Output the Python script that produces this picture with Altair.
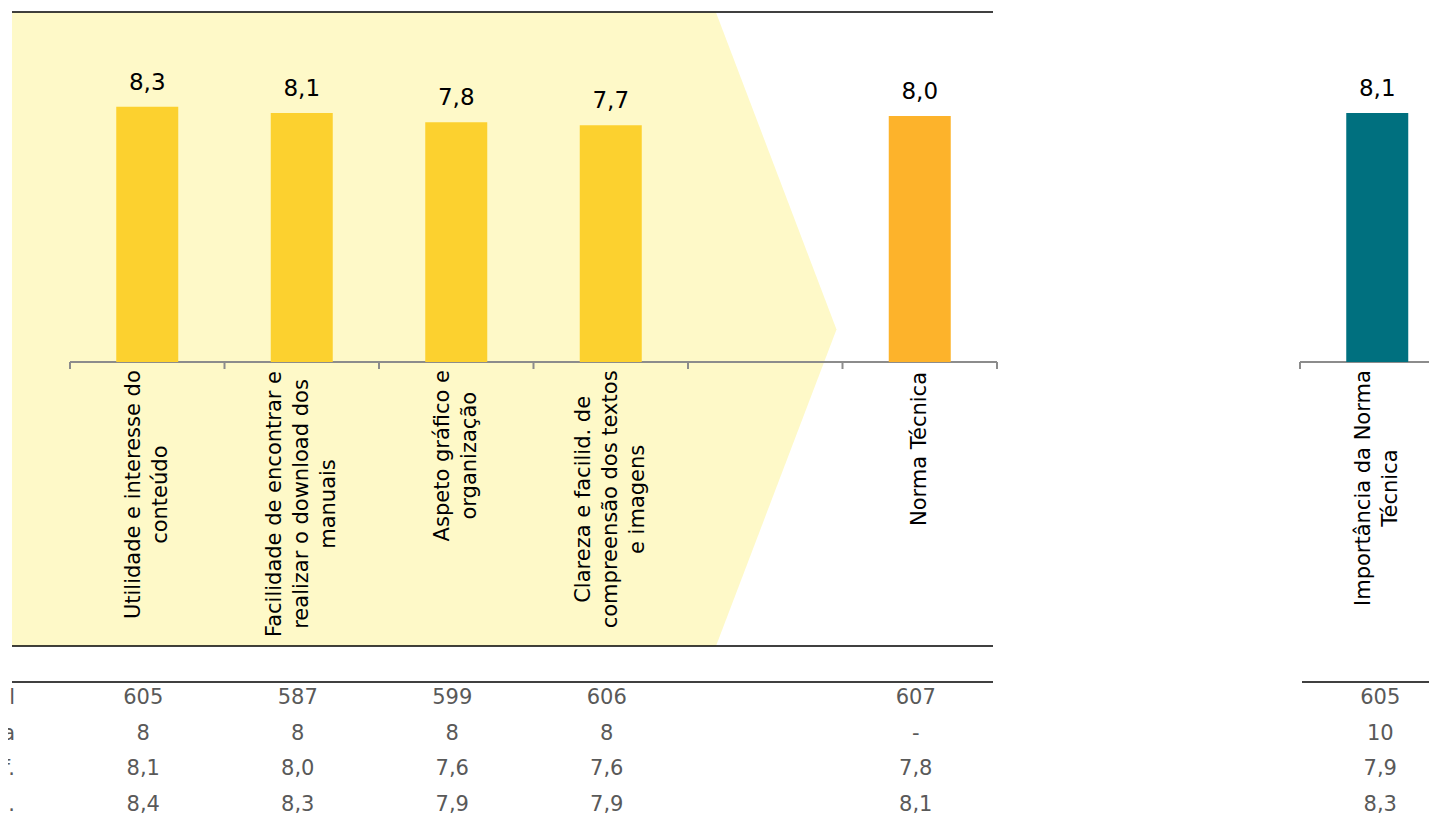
import altair as alt
import pandas as pd

# ---------------- data ----------------
cats1 = [
    "Utilidade e interesse do\nconteúdo",
    "Facilidade de encontrar e\nrealizar o download dos\nmanuais",
    "Aspeto gráfico e\norganização",
    "Clareza e facilid. de\ncompreensão dos textos\ne imagens",
    " ",
    "Norma Técnica",
]
vals1 = [8.3, 8.1, 7.8, 7.7, None, 8.0]
kinds1 = ["atributo", "atributo", "atributo", "atributo", "vazio", "norma"]

cats2 = ["Importância da Norma\nTécnica"]
vals2 = [8.1]
kinds2 = ["importancia"]

row_labels = ["Total", "Mediana", "Lim. inf.", "Lim. sup."]
tab1_total = ["605", "587", "599", "606", "", "607"]
tab1_med = ["8", "8", "8", "8", "", "-"]
tab1_inf = ["8,1", "8,0", "7,6", "7,6", "", "7,8"]
tab1_sup = ["8,4", "8,3", "7,9", "7,9", "", "8,1"]
tab2_total = ["605"]
tab2_med = ["10"]
tab2_inf = ["7,9"]
tab2_sup = ["8,3"]

# ---------------- styling ----------------
FONT = "DejaVu Sans"
C_ATTR = "#FCD12F"
C_NORMA = "#FDB32B"
C_IMP = "#00707F"
C_BG = "#FEF9C8"
C_AXIS = "#8C8C8C"
C_TAB = "#595959"
LAB_SIZE = 21
LAB_LH = 27

# DejaVu Sans advance widths (em) to centre rotated multi-line labels
W = {" ": .318, ".": .318, "a": .613, "b": .635, "c": .550, "d": .635, "e": .615,
     "f": .352, "g": .635, "h": .634, "i": .278, "j": .278, "k": .579, "l": .278,
     "m": .974, "n": .634, "o": .612, "p": .635, "q": .635, "r": .411, "s": .521,
     "t": .392, "u": .634, "v": .592, "w": .818, "x": .592, "y": .592, "z": .525,
     "A": .684, "C": .698, "F": .575, "I": .295, "N": .748, "T": .611, "U": .732}
ACC = {"á": "a", "ã": "a", "â": "a", "é": "e", "ú": "u", "ç": "c"}


def text_w(s):
    return sum(W.get(ACC.get(ch, ch), .6) for ch in s) * LAB_SIZE


def label_center(lbl, top):
    return top + max(text_w(l) for l in lbl.split("\n")) / 2


# plot geometry (chart coords; page = chart + 8)
AX_Y = 354
LAB_TOP = 362
xs_bar1 = alt.Scale(type="band", domain=cats1, range=[62, 989], paddingInner=0, paddingOuter=0)
xs_tab1 = alt.Scale(type="band", domain=cats1, range=[58, 985], paddingInner=0, paddingOuter=0)
xs_bar2 = alt.Scale(type="band", domain=cats2, range=[1292, 1446.5], paddingInner=0, paddingOuter=0)
xs_tab2 = alt.Scale(type="band", domain=cats2, range=[1295, 1449.5], paddingInner=0, paddingOuter=0)
ys_val = alt.Scale(domain=[0, 10], range=[AX_Y, AX_Y - 307.5], nice=False, zero=True)
ys_tab = alt.Scale(type="point", domain=row_labels, range=[690, 797], padding=0)

df1 = pd.DataFrame({"cat": cats1, "val": vals1, "kind": kinds1})
df2 = pd.DataFrame({"cat": cats2, "val": vals2, "kind": kinds2})
color_scale = alt.Scale(domain=["atributo", "vazio", "norma", "importancia"],
                        range=[C_ATTR, "#FFFFFF", C_NORMA, C_IMP])


def bars(df, xs):
    base = alt.Chart(df).transform_filter("isValid(datum.val)")
    b = base.mark_bar(width=62).encode(
        x=alt.X("cat:N", scale=xs, axis=None),
        y=alt.Y("val:Q", scale=ys_val, axis=None),
        color=alt.Color("kind:N", scale=color_scale, legend=None),
    )
    t = base.transform_calculate(
        lbl="replace(format(datum.val, '.1f'), '.', ',')"
    ).mark_text(font=FONT, fontSize=23, color="black", baseline="alphabetic", dy=-17).encode(
        x=alt.X("cat:N", scale=xs, axis=None),
        y=alt.Y("val:Q", scale=ys_val, axis=None),
        text="lbl:N",
    )
    return [b, t]


def cat_labels(cats, xs):
    out = []
    nlines = sorted({len(c.split("\n")) for c in cats})
    for n in nlines:
        sub = [c for c in cats if len(c.split("\n")) == n]
        d = pd.DataFrame({"cat": sub, "ly": [label_center(c, LAB_TOP) for c in sub]})
        out.append(alt.Chart(d).mark_text(
            font=FONT, fontSize=LAB_SIZE, lineHeight=LAB_LH, angle=270, align="center",
            baseline="middle", lineBreak="\n", color="black", dy=-(n - 1) * LAB_LH / 2
        ).encode(
            x=alt.X("cat:N", scale=xs, axis=None),
            y=alt.Y("ly:Q", scale=None),
            text="cat:N",
        ))
    return out


def ticks(cats, xs, last=True):
    d = pd.DataFrame({"cat": cats})
    layers = [alt.Chart(d).mark_rule(color=C_AXIS, strokeWidth=2).encode(
        x=alt.X("cat:N", scale=xs, axis=None, bandPosition=0),
        y=alt.value(AX_Y), y2=alt.value(AX_Y + 7))]
    if last:
        layers.append(alt.Chart(pd.DataFrame({"cat": cats[-1:]})).mark_rule(
            color=C_AXIS, strokeWidth=2).encode(
            x=alt.X("cat:N", scale=xs, axis=None, bandPosition=1),
            y=alt.value(AX_Y), y2=alt.value(AX_Y + 7)))
    return layers


def table(cats, cols, xs):
    recs = []
    for r, col in zip(row_labels, cols):
        for c, v in zip(cats, col):
            recs.append({"cat": c, "row": r, "txt": v})
    return alt.Chart(pd.DataFrame(recs)).mark_text(
        font=FONT, fontSize=21, color=C_TAB, baseline="middle"
    ).encode(
        x=alt.X("cat:N", scale=xs, axis=None),
        y=alt.Y("row:N", scale=ys_tab, axis=None),
        text="txt:N",
    )


# decorative background arrow (pixel geometry)
poly = pd.DataFrame({"px": [4, 708, 828.5], "py": [4.5, 4.5, 321.5], "py2": [638, 638, 321.5]})
bg = alt.Chart(poly).mark_area(color=C_BG, opacity=1).encode(
    x=alt.X("px:Q", scale=None), y=alt.Y("py:Q", scale=None), y2="py2:Q")


def hline(x1, x2, y, color="black", w=1.5):
    return alt.Chart(pd.DataFrame({"k": [0]})).mark_rule(color=color, strokeWidth=w).encode(
        x=alt.value(x1), x2=alt.value(x2), y=alt.value(y))


row_lab = alt.Chart(pd.DataFrame({"row": row_labels})).mark_text(
    font=FONT, fontSize=21, color=C_TAB, align="right", baseline="middle"
).encode(x=alt.value(7), y=alt.Y("row:N", scale=ys_tab, axis=None), text="row:N")

layers = [bg,
          hline(4, 985, 4), hline(4, 985, 638), hline(4, 985, 674), hline(1294, 1440, 674),
          hline(62, 989, AX_Y, C_AXIS, 2), hline(1292, 1440, AX_Y, C_AXIS, 2)]
layers += ticks(cats1, xs_bar1) + ticks(cats2, xs_bar2, last=False)
layers += bars(df1, xs_bar1) + bars(df2, xs_bar2)
layers += cat_labels(cats1, xs_bar1) + cat_labels(cats2, xs_bar2)
layers += [table(cats1, [tab1_total, tab1_med, tab1_inf, tab1_sup], xs_tab1),
           table(cats2, [tab2_total, tab2_med, tab2_inf, tab2_sup], xs_tab2),
           row_lab]

chart = alt.layer(*layers).resolve_scale(
    x="independent", y="independent", color="independent"
).properties(
    width=1421, height=808, autosize=alt.AutoSizeParams(type="none"), padding=0,
    background="white"
).configure_view(stroke=None)

chart.save("out.html", embed_options={"renderer": "svg", "actions": False})
